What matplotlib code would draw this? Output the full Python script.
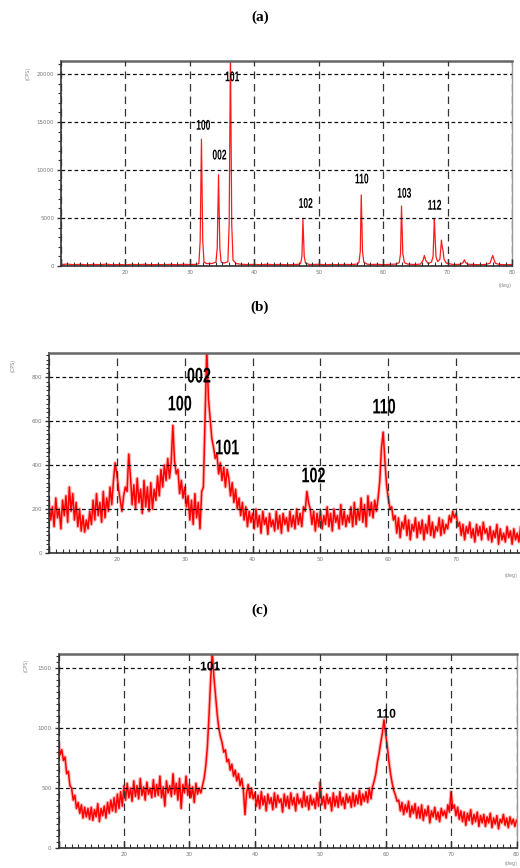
import numpy as np
import matplotlib.pyplot as plt
import matplotlib.transforms as mtransforms
from matplotlib.font_manager import FontProperties
from matplotlib.patches import PathPatch
from matplotlib.textpath import TextPath
from matplotlib.ticker import MultipleLocator

# ---- (a) sharp reflections, counts read at each angle ----
TWO_THETA_A = [
    10.0, 11, 12, 13, 14, 15, 16, 17, 18, 19, 20, 21, 22, 23, 24, 25, 26, 27, 28, 29, 30, 31,
    31.4, 31.6, 31.72, 31.8, 31.88, 32.0, 32.2, 32.6, 33.4,
    34.05, 34.25, 34.37, 34.45, 34.53, 34.65, 34.85, 35.3,
    35.9, 36.1, 36.22, 36.3, 36.38, 36.5, 36.7, 37.2,
    38, 39, 40, 41, 42, 43, 44, 45, 46, 47,
    47.2, 47.4, 47.5, 47.55, 47.62, 47.75, 47.95,
    48.5, 49, 50, 51, 52, 53, 54, 55, 56,
    56.25, 56.45, 56.55, 56.6, 56.67, 56.8, 57.0, 57.5,
    58, 59, 60, 61, 62,
    62.5, 62.7, 62.8, 62.85, 62.92, 63.05, 63.3, 63.8,
    64.5, 65, 65.8, 66.2, 66.4, 66.6, 67.0,
    67.5, 67.75, 67.88, 67.95, 68.03, 68.2, 68.45,
    68.8, 68.95, 69.05, 69.15, 69.3, 69.45, 69.8,
    70.5, 71, 72, 72.4, 72.6, 72.8, 73.2, 74, 75, 76,
    76.6, 76.85, 77.0, 77.15, 77.4, 78, 79, 80,
]
COUNTS_A = [
    150, 200, 130, 180, 120, 170, 140, 190, 130, 160, 120, 170, 140, 180, 130, 160, 140, 170, 130, 180, 150, 170,
    250, 2600, 9200, 13200, 9200, 2600, 400, 250, 260,
    400, 1900, 6600, 9500, 6600, 1900, 400, 300,
    450, 4300, 15000, 22500, 15000, 4300, 600, 250,
    180, 150, 170, 130, 180, 140, 170, 130, 160, 180,
    300, 1000, 3400, 4850, 3400, 1000, 300,
    170, 150, 180, 130, 160, 140, 170, 150, 200,
    400, 1500, 5200, 7400, 5200, 1500, 400, 200,
    150, 180, 140, 170, 200,
    350, 1300, 4400, 6250, 4400, 1300, 350, 200,
    170, 150, 200, 600, 1100, 600, 250,
    400, 1000, 3500, 4950, 3500, 1000, 450,
    700, 1800, 2700, 2100, 1600, 700, 300,
    200, 150, 180, 350, 650, 350, 180, 160, 130, 170,
    300, 800, 1100, 800, 300, 160, 140, 150,
]
HKL_A = ["100", "002", "101", "102", "110", "103", "112"]
HKL_A_X = [32.1, 34.6, 36.6, 48.0, 56.7, 63.3, 68.0]
HKL_A_Y = [14700, 11600, 19750, 6560, 9110, 7620, 6380]

# ---- (b) and (c) noisy traces, counts every 0.25 deg from 10 to 80 ----
COUNTS_B = [
    230, 150, 210, 120, 250, 160, 200, 110, 240, 170, 260, 140, 300, 190, 270, 150, 230, 120, 200, 100,
    170, 95, 150, 110, 190, 130, 240, 150, 270, 170, 230, 140, 280, 160, 250, 190, 300, 220, 330, 410,
    360, 290, 240, 190, 260, 300, 280, 450, 350, 220, 310, 200, 340, 230, 290, 180, 330, 210, 300, 190,
    320, 200, 290, 240, 350, 260, 380, 300, 400, 330, 430, 340, 410, 580, 420, 360, 380, 270, 330, 250,
    300, 210, 260, 150, 240, 130, 270, 160, 230, 110, 280, 300, 620, 930, 700, 610, 520, 480, 430, 450,
    360, 410, 330, 390, 300, 380, 340, 260, 320, 230, 290, 200, 250, 170, 230, 150, 210, 120, 190, 140,
    180, 110, 200, 120, 170, 90, 190, 130, 160, 85, 180, 120, 150, 100, 190, 110, 170, 90, 180, 130,
    160, 100, 190, 120, 170, 110, 200, 130, 180, 120, 210, 190, 280, 230, 200, 130, 190, 100, 180, 120,
    190, 110, 170, 130, 210, 120, 180, 100, 200, 140, 170, 110, 220, 130, 190, 120, 170, 140, 210, 120,
    230, 130, 200, 150, 250, 140, 220, 120, 260, 170, 230, 160, 240, 190, 250, 330, 480, 550, 420, 310,
    250, 200, 210, 150, 170, 90, 160, 70, 140, 110, 170, 80, 150, 60, 130, 100, 160, 70, 140, 90,
    150, 60, 130, 90, 170, 80, 140, 70, 120, 100, 160, 80, 150, 90, 130, 110, 170, 140, 190, 160,
    180, 120, 140, 80, 130, 60, 120, 90, 140, 70, 110, 50, 130, 80, 120, 60, 140, 90, 110, 60,
    120, 50, 100, 70, 130, 40, 110, 60, 90, 50, 120, 70, 100, 40, 110, 60, 90, 50, 120, 70,
    90,
]
HKL_B = ["100", "002", "101", "102", "110"]
HKL_B_X = [29.3, 32.1, 36.3, 49.0, 59.4]
HKL_B_Y = [682, 809, 482, 355, 668]

COUNTS_C = [
    880, 780, 820, 730, 760, 620, 640, 520, 500, 400, 440, 330, 380, 290, 360, 250, 340, 260, 330, 240,
    340, 230, 320, 260, 370, 220, 330, 270, 350, 250, 380, 290, 400, 310, 420, 300, 450, 330, 470, 350,
    520, 400, 540, 420, 500, 390, 560, 430, 520, 410, 580, 440, 510, 400, 550, 450, 500, 420, 570, 430,
    530, 440, 600, 420, 510, 350, 560, 460, 520, 430, 620, 450, 540, 400, 580, 330, 530, 460, 600, 440,
    530, 420, 510, 380, 540, 450, 500, 460, 520, 580, 680, 840, 1100, 1400, 1640, 1430, 1280, 1120, 1000, 930,
    880, 800, 820, 720, 740, 650, 700, 600, 650, 560, 620, 520, 580, 490, 280, 460, 530, 420, 500, 410,
    460, 350, 440, 330, 470, 360, 430, 310, 450, 370, 420, 320, 460, 340, 440, 380, 410, 300, 450, 350,
    430, 330, 460, 360, 420, 310, 450, 370, 410, 340, 470, 350, 430, 320, 440, 360, 410, 330, 460, 350,
    550, 360, 430, 330, 450, 370, 420, 310, 460, 350, 430, 340, 470, 360, 420, 330, 450, 380, 430, 340,
    460, 350, 440, 370, 480, 360, 450, 390, 470, 380, 500, 410, 510, 560, 620, 720, 790, 880, 960, 1070,
    950, 850, 720, 620, 540, 480, 440, 390, 400, 310, 380, 280, 360, 300, 390, 260, 350, 290, 370, 250,
    340, 250, 360, 230, 320, 270, 350, 210, 310, 260, 340, 240, 300, 220, 330, 270, 310, 250, 360, 300,
    470, 330, 360, 270, 340, 240, 310, 220, 300, 190, 290, 230, 320, 200, 280, 220, 300, 180, 270, 210,
    280, 180, 260, 210, 290, 170, 250, 200, 270, 160, 240, 210, 280, 190, 250, 170, 260, 200, 240, 180,
    230,
]
HKL_C = ["101", "110"]
HKL_C_X = [33.2, 60.1]
HKL_C_Y = [1519, 1125]

TWO_THETA_SCAN = np.linspace(10, 80, len(COUNTS_B))

W, H = 520, 868
LABEL_FONT = FontProperties(family=["Liberation Sans", "DejaVu Sans"], weight="bold")


def frac(left, top, right, bottom):
    return [left / W, 1 - bottom / H, (right - left) / W, (bottom - top) / H]


def hkl_label(ax, x, y, text, height_px, squeeze):
    # narrow bold digits: text outline squeezed sideways, centred on (x, y)
    tp = TextPath((0, 0), text, size=10, prop=LABEL_FONT)
    bb = tp.get_extents()
    k = height_px / bb.height
    tr = (mtransforms.Affine2D()
          .translate(-(bb.x0 + bb.x1) / 2, -(bb.y0 + bb.y1) / 2)
          .scale(k * squeeze, k)
          + mtransforms.ScaledTranslation(x, y, ax.transData))
    ax.add_patch(PathPatch(tp, transform=tr, facecolor="black", edgecolor="none",
                           zorder=5, clip_on=False))


def style_axes(ax, ytop, ymajor, yminor, last_label=True):
    ax.set_xlim(10, 80)
    ax.set_ylim(0, ytop)
    ax.xaxis.set_major_locator(MultipleLocator(10))
    ax.xaxis.set_minor_locator(MultipleLocator(1))
    ax.yaxis.set_major_locator(MultipleLocator(ymajor))
    ax.yaxis.set_minor_locator(MultipleLocator(yminor))
    ax.set_xticks(range(10, 81, 10))
    labels = [""] + [str(v) for v in range(20, 81, 10)]
    if not last_label:
        labels[-1] = ""
    ax.set_xticklabels(labels)
    ax.tick_params(axis="x", which="major", direction="in", length=5, width=1.0,
                   color="#333333", labelsize=4, labelcolor="#777777", pad=3)
    ax.tick_params(axis="x", which="minor", direction="in", length=3, width=0.8, color="#333333")
    ax.tick_params(axis="y", which="major", direction="out", length=3, width=1.0,
                   color="#333333", labelsize=4, labelcolor="#777777", pad=2)
    ax.tick_params(axis="y", which="minor", direction="out", length=2, width=0.8, color="#333333")
    ax.set_axisbelow(False)
    ax.yaxis.grid(True, which="major", linestyle=(0, (3, 2.2)), color="#111111", lw=0.9)
    ax.xaxis.grid(True, which="major", linestyle=(0, (6, 4)), color="#333333", lw=0.9)
    ax.spines["top"].set_color("#666666")
    ax.spines["top"].set_linewidth(1.8)
    ax.spines["right"].set_color("#999999")
    ax.spines["right"].set_linewidth(1.0)
    ax.spines["left"].set_color("#333333")
    ax.spines["bottom"].set_color("#333333")
    ax.spines["left"].set_linewidth(1.2)
    ax.spines["bottom"].set_linewidth(1.2)


fig = plt.figure(figsize=(W / 100, H / 100), dpi=100)
fig.patch.set_facecolor("white")

# (a)
ax_a = fig.add_axes(frac(61, 61, 512, 266))
style_axes(ax_a, 21350, 5000, 1000)
ax_a.plot(TWO_THETA_A, COUNTS_A, color="#ff1a1a", lw=0.9, zorder=2)
for t, x, y in zip(HKL_A, HKL_A_X, HKL_A_Y):
    hkl_label(ax_a, x, y, t, 10, 0.6)

# (b) runs past the right edge of the page
ax_b = fig.add_axes(frac(49, 353, 524, 553))
style_axes(ax_b, 910, 200, 20, last_label=False)
ax_b.plot(TWO_THETA_SCAN, COUNTS_B, color="#ff4040", lw=2.6, alpha=0.35, zorder=2)
ax_b.plot(TWO_THETA_SCAN, COUNTS_B, color="red", lw=1.1, zorder=2)
for t, x, y in zip(HKL_B, HKL_B_X, HKL_B_Y):
    hkl_label(ax_b, x, y, t, 15, 0.68)

# (c)
ax_c = fig.add_axes(frac(58.5, 654, 516.5, 848))
style_axes(ax_c, 1620, 500, 50)
ax_c.plot(TWO_THETA_SCAN, COUNTS_C, color="#ff4040", lw=2.6, alpha=0.35, zorder=2)
ax_c.plot(TWO_THETA_SCAN, COUNTS_C, color="red", lw=1.1, zorder=2)
for t, x, y in zip(HKL_C, HKL_C_X, HKL_C_Y):
    hkl_label(ax_c, x, y, t, 9, 0.95)

# panel letters
for letter, ypx in [("(a)", 17), ("(b)", 307), ("(c)", 610)]:
    fig.text(0.5, 1 - ypx / H, letter, ha="center", va="center", fontsize=11,
             fontweight="bold", family=["Liberation Serif", "DejaVu Serif"])

# axis units
for xpx, ypx in [(28, 73), (13, 365), (26, 665)]:
    fig.text(xpx / W, 1 - ypx / H, "(CPS)", rotation=90, ha="center", va="center",
             fontsize=3.5, color="#888888")
for xpx, ypx in [(505, 286), (511, 576), (511, 863)]:
    fig.text(xpx / W, 1 - ypx / H, "(deg)", ha="center", va="center",
             fontsize=3.5, color="#888888")

fig.savefig("out.png", dpi=100, facecolor="white")
